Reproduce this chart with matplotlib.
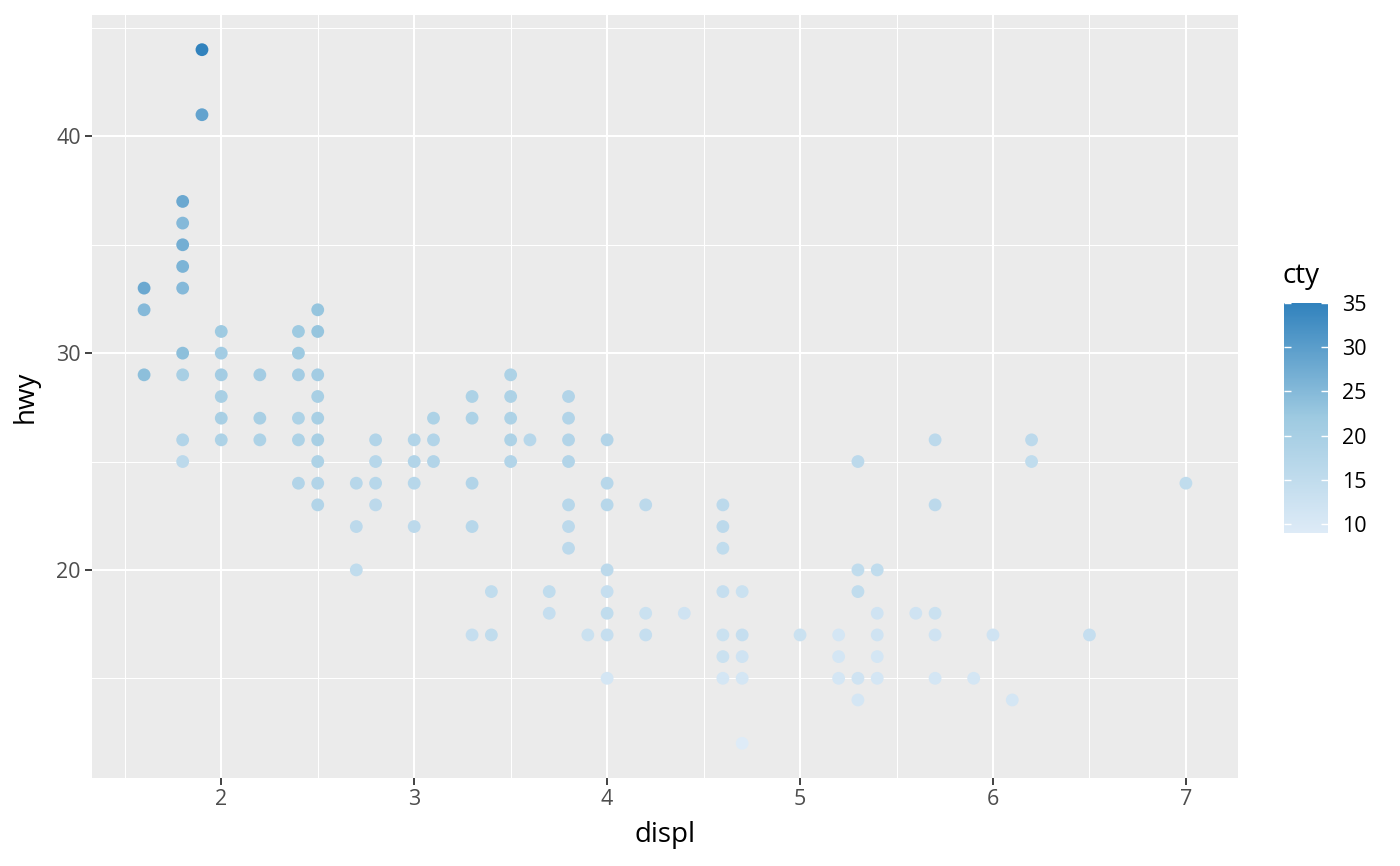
import numpy as np
import matplotlib
matplotlib.use("Agg")
import matplotlib.pyplot as plt
from matplotlib.colors import LinearSegmentedColormap
from matplotlib.ticker import MultipleLocator

plt.rcParams['font.family'] = ['Open Sans', 'DejaVu Sans']

# points: displ, hwy, cty (cty estimated from colour)
displ = [1.6, 1.6, 1.6,
         1.8, 1.8, 1.8, 1.8, 1.8, 1.8, 1.8, 1.8, 1.8,
         1.9, 1.9,
         2.0, 2.0, 2.0, 2.0, 2.0, 2.0,
         2.2, 2.2, 2.2,
         2.4, 2.4, 2.4, 2.4, 2.4, 2.4,
         2.5, 2.5, 2.5, 2.5, 2.5, 2.5, 2.5, 2.5, 2.5,
         2.7, 2.7, 2.7,
         2.8, 2.8, 2.8, 2.8,
         3.0, 3.0, 3.0, 3.0,
         3.1, 3.1, 3.1,
         3.3, 3.3, 3.3, 3.3, 3.3,
         3.4, 3.4,
         3.5, 3.5, 3.5, 3.5, 3.5,
         3.6,
         3.7, 3.7,
         3.8, 3.8, 3.8, 3.8, 3.8, 3.8, 3.8,
         3.9,
         4.0, 4.0, 4.0, 4.0, 4.0, 4.0, 4.0, 4.0,
         4.2, 4.2, 4.2,
         4.4,
         4.6, 4.6, 4.6, 4.6, 4.6, 4.6, 4.6,
         4.7, 4.7, 4.7, 4.7, 4.7,
         5.0,
         5.2, 5.2, 5.2,
         5.3, 5.3, 5.3, 5.3, 5.3,
         5.4, 5.4, 5.4, 5.4, 5.4,
         5.6,
         5.7, 5.7, 5.7, 5.7, 5.7,
         5.9, 6.0, 6.1,
         6.2, 6.2,
         6.5, 7.0]
hwy = [33, 32, 29,
       37, 36, 35, 34, 33, 30, 29, 26, 25,
       44, 41,
       31, 30, 29, 28, 27, 26,
       29, 27, 26,
       31, 30, 29, 27, 26, 24,
       32, 31, 29, 28, 27, 26, 25, 24, 23,
       24, 22, 20,
       26, 25, 24, 23,
       26, 25, 24, 22,
       27, 26, 25,
       28, 27, 24, 22, 17,
       19, 17,
       29, 28, 27, 26, 25,
       26,
       19, 18,
       28, 27, 26, 25, 23, 22, 21,
       17,
       26, 24, 23, 20, 19, 18, 17, 15,
       23, 18, 17,
       18,
       23, 22, 21, 19, 17, 16, 15,
       19, 17, 16, 15, 12,
       17,
       17, 16, 15,
       25, 20, 19, 15, 14,
       20, 18, 17, 16, 15,
       18,
       26, 23, 18, 17, 15,
       15, 17, 14,
       26, 25,
       17, 24]
cty = [28, 25, 24,
       28, 25, 27, 26, 25, 24, 20, 18, 16,
       35, 29,
       22, 21, 21, 20, 20, 19,
       21, 20, 19,
       22, 22, 21, 19, 19, 18,
       23, 23, 21, 20, 20, 20, 19, 18, 18,
       17, 16, 15,
       18, 17, 17, 16,
       18, 18, 17, 16,
       19, 18, 18,
       19, 19, 18, 17, 14,
       15, 15,
       19, 19, 19, 19, 18,
       17,
       15, 14,
       18, 18, 18, 18, 17, 16, 16,
       13,
       18, 17, 17, 16, 14, 15, 14, 11,
       16, 13, 14,
       12,
       16, 16, 15, 14, 13, 13, 11,
       13, 14, 12, 11, 9,
       13,
       11, 11, 11,
       16, 15, 15, 12, 11,
       15, 12, 12, 11, 11,
       12,
       16, 16, 13, 12, 11,
       11, 12, 11,
       16, 15,
       14, 15]

blues = LinearSegmentedColormap.from_list("blues3", ["#deebf7", "#9ecae1", "#3182bd"])

fig = plt.figure(figsize=(14, 8.66), dpi=100)
ax = fig.add_axes([92 / 1400, 1 - 778 / 866, (1238 - 92) / 1400, (778 - 15) / 866])
ax.set_facecolor("#ebebeb")

sc = ax.scatter(displ, hwy, c=cty, cmap=blues, vmin=9, vmax=35, s=85, linewidths=0, zorder=3)

ax.set_xlim(1.33, 7.27)
ax.set_ylim(10.4, 45.6)
ax.xaxis.set_major_locator(MultipleLocator(1))
ax.xaxis.set_minor_locator(MultipleLocator(0.5))
ax.yaxis.set_major_locator(MultipleLocator(10))
ax.yaxis.set_minor_locator(MultipleLocator(5))
ax.grid(which="major", color="white", linewidth=1.5, zorder=0)
ax.grid(which="minor", color="white", linewidth=0.75, zorder=0)
ax.set_axisbelow(True)
for s in ax.spines.values():
    s.set_visible(False)
ax.tick_params(which="major", length=5, width=1.3, color="#333333", labelsize=15.5,
               labelcolor="#4d4d4d", pad=3)
ax.tick_params(which="minor", length=0)
ax.set_xlabel("displ", fontsize=20, labelpad=8)
ax.set_ylabel("hwy", fontsize=20, labelpad=12)

# colour bar legend
cax = fig.add_axes([1284 / 1400, 1 - 533 / 866, 44 / 1400, 230 / 866])
cb = fig.colorbar(sc, cax=cax, ticks=[10, 15, 20, 25, 30, 35])
cb.outline.set_visible(False)
cax.tick_params(direction="in", color="white", length=5, width=1, left=True, right=True,
                labelsize=15.5, labelcolor="black", pad=10)
fig.text(1283 / 1400, 1 - 276 / 866, "cty", fontsize=20, va="center", ha="left")

fig.savefig("out.png", dpi=100)
